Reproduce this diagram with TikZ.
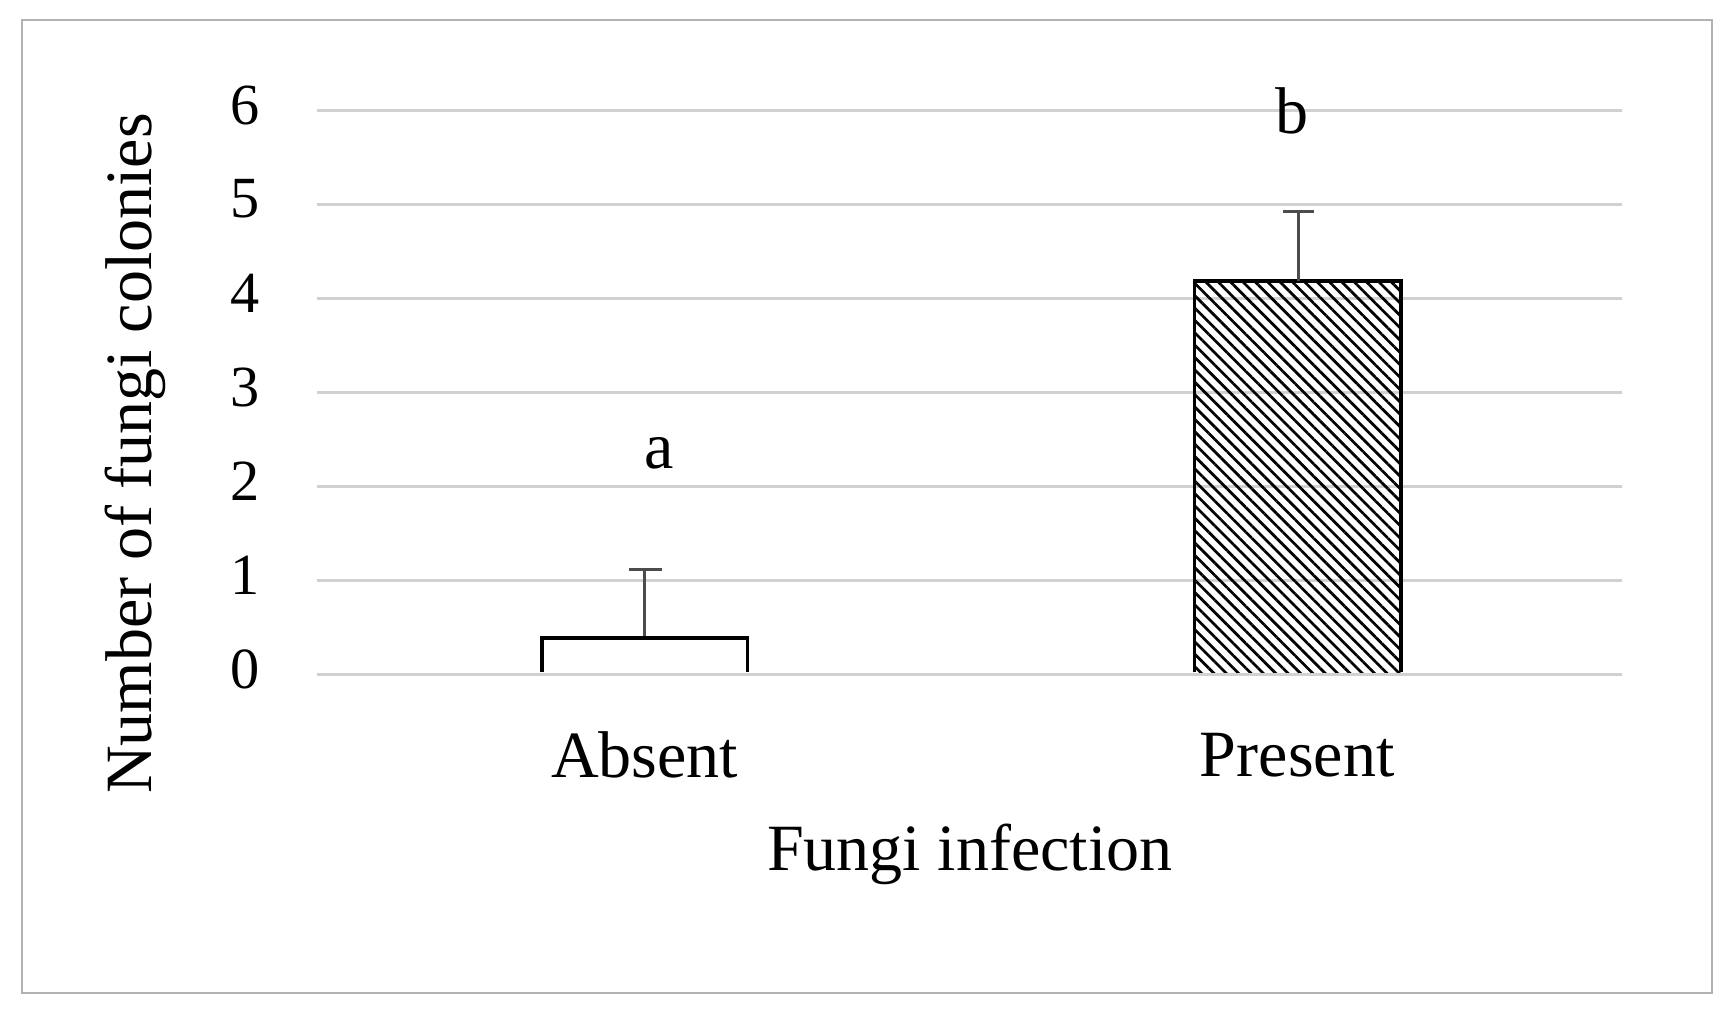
\documentclass[tikz,border=0pt]{standalone}
\usepackage{fontspec}
\setmainfont{Liberation Serif}
\usetikzlibrary{patterns.meta}
\begin{document}
\begin{tikzpicture}[x=0.02cm,y=-0.02cm,
  grid/.style={draw=black!18,line width=1.4pt},
  bar/.style={draw=black,line width=1.8pt},
  err/.style={draw=black!70,line width=1.6pt},
  tick/.style={font=\fontsize{30}{30}\selectfont,anchor=center},
  lab/.style={font=\fontsize{34}{34}\selectfont,anchor=center}]
\useasboundingbox (0,0) rectangle (1568,920);
\draw[black!30,line width=0.8pt] (20,18) rectangle (1548,898);
\foreach \v in {0,...,6}{
  \draw[grid] (287,610-85*\v) -- (1467,610-85*\v);
  \node[tick] (t\v) at (222,605-85*\v) {\v};
}
% absent bar
\coordinate (ea) at (583,577);
\coordinate (eat) at (583,515);
\draw[err] (ea) -- (eat);
\draw[err] (569,515) -- (599,515);
\draw[bar,fill=white] (490,608) |- (676,577) -- (676,608);
% present bar
\fill[pattern={Lines[angle=-45,distance=4.5pt,line width=1.4pt]}] (1080,608) rectangle (1267,254);
\draw[bar] (1080,608) |- (1267,254) -- (1267,608);
\coordinate (ep) at (1174,254);
\coordinate (ept) at (1174,191);
\draw[err] (ep) -- (ept);
\draw[err] (1160,191) -- (1188,191);
\node[lab] (a) at (596,410) {a};
\node[lab] (b) at (1168,100) {b};
\node[lab] (xa) at (583,683) {Absent};
\node[lab] (xp) at (1173,683) {Present};
\node[lab] (xt) at (877,773) {Fungi infection};
\node[lab,rotate=90] (yt) at (122,410) {Number of fungi colonies};
\end{tikzpicture}
\end{document}
